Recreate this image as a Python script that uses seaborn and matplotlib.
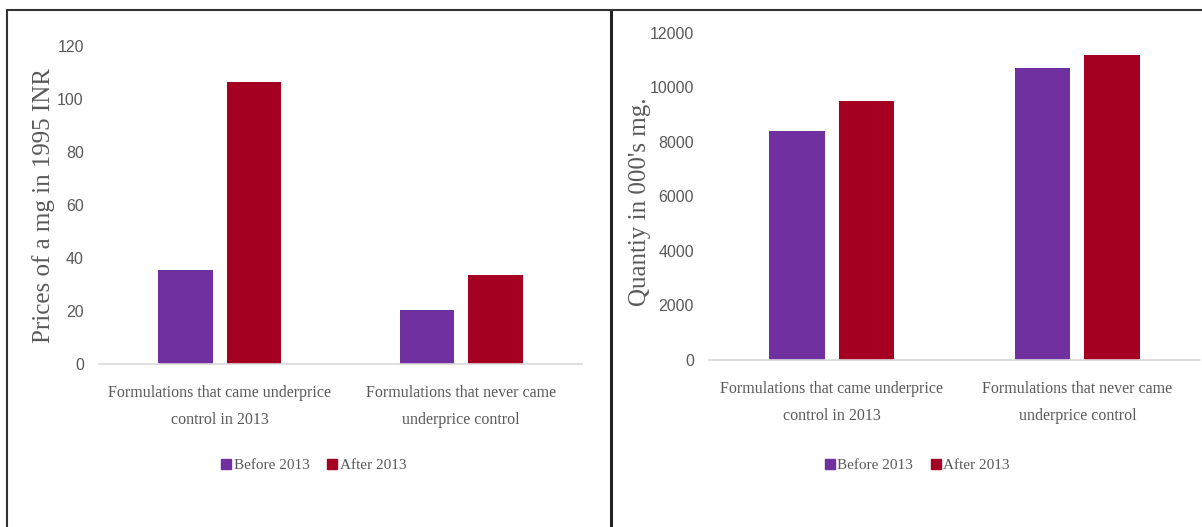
import numpy as np
import pandas as pd
import seaborn as sns
import matplotlib.pyplot as plt
from matplotlib.lines import Line2D

# data
categories = ["Formulations that came underprice\ncontrol in 2013",
              "Formulations that never came\nunderprice control"]
periods = ["Before 2013", "After 2013"]
price_before = [35.6, 20.3]
price_after = [106.5, 33.6]
qty_before = [8400, 10700]
qty_after = [9500, 11200]

colors = {"Before 2013": "#7030A0", "After 2013": "#A50021"}
grey = "#595959"


def long_table(before, after):
    return pd.DataFrame({
        "category": categories * 2,
        "period": [periods[0]] * 2 + [periods[1]] * 2,
        "value": list(before) + list(after),
    })


sns.set_theme(style="white")
plt.rcParams["font.family"] = ["Liberation Serif", "DejaVu Serif"]
tick_font = ["Liberation Sans Narrow", "Liberation Sans", "DejaVu Sans"]

fig = plt.figure(figsize=(12.02, 5.27), dpi=100)
ax1 = fig.add_axes([0.0824, 0.3093, 0.4018, 0.6034])
ax2 = fig.add_axes([0.5899, 0.3169, 0.4085, 0.6210])

panels = [
    (ax1, long_table(price_before, price_after), (0, 120), np.arange(0, 121, 20),
     "Prices of a mg in 1995 INR", (-0.092, 0.5)),
    (ax2, long_table(qty_before, qty_after), (0, 12000), np.arange(0, 12001, 2000),
     "Quantiy in 000's mg.", (-0.118, 0.485)),
]

for ax, df, ylim, yticks, ylabel, lpos in panels:
    sns.barplot(data=df, x="category", y="value", hue="period",
                palette=colors, width=0.565, gap=0.2, ax=ax,
                legend=False, saturation=1, edgecolor="none")
    ax.set_xlim(-0.5, 1.5)
    ax.set_ylim(*ylim)
    ax.set_yticks(yticks)
    ax.set_yticklabels([str(t) for t in yticks], family=tick_font,
                       fontsize=11.5, color=grey)
    ax.set_xticks([0, 1])
    ax.set_xticklabels(categories, fontsize=11.5, color=grey, linespacing=1.9)
    ax.tick_params(axis="x", length=0, pad=15)
    ax.tick_params(axis="y", length=0, pad=11)
    ax.set_xlabel("")
    ax.set_ylabel(ylabel, fontsize=18, color=grey)
    ax.yaxis.set_label_coords(*lpos)
    for s in ["top", "right", "left"]:
        ax.spines[s].set_visible(False)
    ax.spines["bottom"].set_color("#d9d9d9")
    ax.spines["bottom"].set_linewidth(1.2)
    ax.grid(False)

# legends below each panel
handles = [Line2D([], [], marker="s", linestyle="", markersize=7,
                  color=colors[p]) for p in periods]
for cx in (0.260, 0.762):
    fig.legend(handles, periods, loc="center", bbox_to_anchor=(cx, 0.117),
               ncol=2, frameon=False, fontsize=11, labelcolor=grey,
               handletextpad=0.0, columnspacing=1.0, handlelength=1.0)

# panel frames
frame = dict(color="#333333", linewidth=1.5, transform=fig.transFigure)
fig.add_artist(Line2D([0.006, 0.508], [0.981, 0.981], **frame))
fig.add_artist(Line2D([0.006, 0.006], [0.0, 0.981], **frame))
fig.add_artist(Line2D([0.508, 0.508], [0.0, 0.981], color="#222222",
                      linewidth=2.2, transform=fig.transFigure))
fig.add_artist(Line2D([0.508, 1.0], [0.981, 0.981], **frame))

fig.savefig("out.png", dpi=100)
